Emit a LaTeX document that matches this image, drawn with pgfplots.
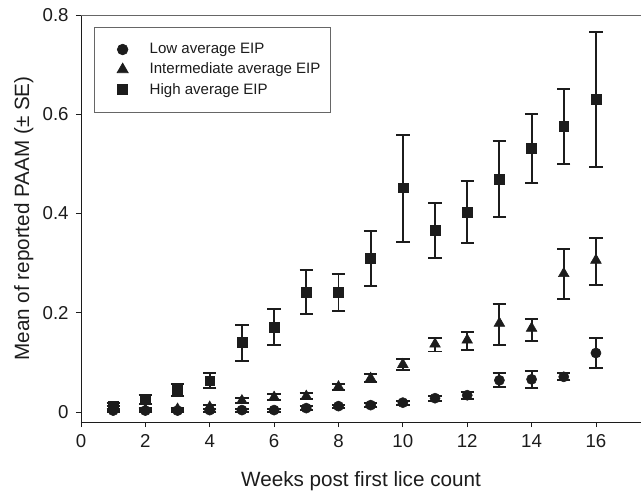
\documentclass[border=0pt]{standalone}
\usepackage{pgfplots}
\pgfplotsset{compat=1.18}
\usepackage{pgfplotstable}
\usepackage{fontspec}
\setmainfont{Liberation Sans}
\definecolor{ink}{HTML}{1C1C1C}

\pgfplotstableread{
x y ep em
1 0.003 0.003 0.003
2 0.003 0.003 0.003
3 0.003 0.003 0.003
4 0.004 0.003 0.003
5 0.004 0.003 0.003
6 0.004 0.003 0.003
7 0.008 0.004 0.004
8 0.012 0.003 0.003
9 0.014 0.004 0.004
10 0.019 0.004 0.004
11 0.028 0.005 0.005
12 0.034 0.007 0.007
13 0.064 0.014 0.014
14 0.066 0.017 0.017
15 0.071 0.007 0.007
16 0.119 0.031 0.031
}\low

\pgfplotstableread{
x y ep em
1 0.008 0.004 0.004
2 0.005 0.003 0.003
3 0.006 0.003 0.003
4 0.010 0.004 0.004
5 0.023 0.005 0.005
6 0.030 0.006 0.006
7 0.032 0.006 0.006
8 0.051 0.006 0.006
9 0.068 0.008 0.008
10 0.096 0.011 0.012
11 0.137 0.013 0.015
12 0.145 0.017 0.020
13 0.179 0.038 0.043
14 0.169 0.018 0.025
15 0.279 0.050 0.052
16 0.306 0.045 0.050
}\mid

\pgfplotstableread{
x y ep em
1 0.012 0.006 0.006
2 0.026 0.009 0.009
3 0.044 0.012 0.012
4 0.063 0.016 0.015
5 0.140 0.036 0.037
6 0.171 0.036 0.035
7 0.242 0.045 0.045
8 0.241 0.038 0.038
9 0.310 0.055 0.056
10 0.452 0.107 0.109
11 0.367 0.055 0.056
12 0.402 0.063 0.062
13 0.469 0.077 0.076
14 0.531 0.069 0.069
15 0.575 0.076 0.075
16 0.630 0.135 0.137
}\high

\pgfplotsset{
  ebar/.style={
    error bars/.cd, y dir=both, y explicit,
    error bar style={line width=1.4pt, draw=ink},
    error mark options={rotate=90, mark size=5pt, line width=1.4pt, draw=ink},
  },
  wideleg/.style={
    legend image code/.code={\path (-16pt,0pt) (18pt,0pt);
      \draw[##1] plot coordinates {(0pt,0pt)};},
  },
}

\begin{document}
\begin{tikzpicture}
\useasboundingbox (-60.75pt,-54pt) rectangle (420pt,316.5pt);
\begin{axis}[
  scale only axis,
  width=420pt, height=305.25pt,
  xmin=0, xmax=17.4, ymin=-0.02, ymax=0.8,
  axis x line*=bottom, axis y line*=left,
  axis line style={ink, line width=0.6pt},
  tick style={ink, line width=0.6pt},
  tick align=outside, major tick length=3.75pt,
  xtick={0,2,...,16}, ytick={0,0.2,0.4,0.6,0.8},
  yticklabels={0,0.2,0.4,0.6,0.8},
  /pgf/number format/assume math mode=true,
  ticklabel style={font=\fontsize{14pt}{16pt}\selectfont, text=ink},
  xticklabel style={yshift=-2pt},
  yticklabel style={xshift=-2pt},
  xlabel={Weeks post first lice count},
  ylabel={Mean of reported PAAM (\textpm{} SE)},
  label style={font=\fontsize{15.5pt}{18pt}\selectfont, text=ink},
  xlabel style={yshift=-11pt},
  ylabel style={yshift=0pt},
  legend style={at={(rel axis cs:0.0232,0.9705)}, anchor=north west,
    draw=gray!80!black, line width=0.5pt, font=\fontsize{11.3pt}{13pt}\selectfont,
    text=ink, inner xsep=5pt, inner ysep=10pt, row sep=1.5pt},
  legend cell align=left,
]
\draw[gray!80!black, line width=0.8pt] (rel axis cs:0,1) -- (rel axis cs:1,1);
\addlegendimage{mark=*, mark size=4pt, draw=ink, fill=ink, wideleg}
\addlegendentry{Low average EIP}
\addlegendimage{mark=triangle*, mark size=4.8pt, draw=ink, fill=ink, wideleg}
\addlegendentry{Intermediate average EIP}
\addlegendimage{mark=square*, mark size=3.8pt, draw=ink, fill=ink, wideleg}
\addlegendentry{High average EIP}
\addplot[forget plot, only marks, mark=*, mark size=3.8pt, draw=ink, fill=ink, ebar]
  table[x=x, y=y, y error plus=ep, y error minus=em] {\low};
\addplot[forget plot, only marks, mark=triangle*, mark size=4.6pt, draw=ink, fill=ink, ebar]
  table[x=x, y=y, y error plus=ep, y error minus=em] {\mid};
\addplot[forget plot, only marks, mark=square*, mark size=3.7pt, draw=ink, fill=ink, ebar]
  table[x=x, y=y, y error plus=ep, y error minus=em] {\high};
\end{axis}
\end{tikzpicture}
\end{document}
